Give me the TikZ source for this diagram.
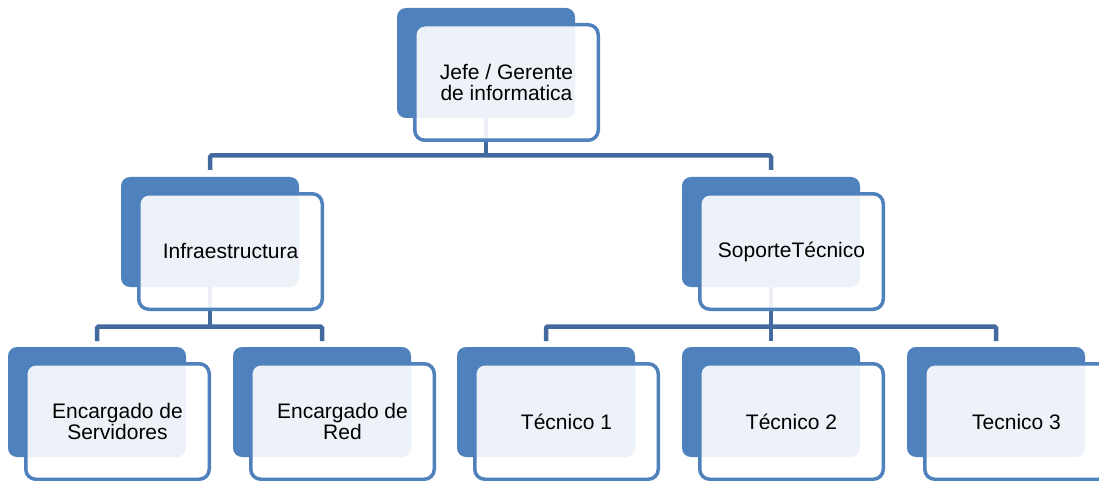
\documentclass[tikz,border=0pt]{standalone}
\usepackage{fontspec}
\setmainfont{Liberation Sans}
\definecolor{boxblue}{RGB}{79,129,189}
\definecolor{connblue}{RGB}{66,106,158}
\tikzset{
  backbox/.style={rectangle, rounded corners=9pt, fill=boxblue, inner sep=0pt,
    minimum width=178pt, minimum height=110pt},
  frontbox/.style={rectangle, rounded corners=10pt, draw=boxblue, line width=3.5pt,
    fill=white, fill opacity=0.9, text opacity=1, inner sep=0pt,
    minimum width=183.5pt, minimum height=115.5pt, align=center,
    font=\fontsize{21}{21}\selectfont},
  conn/.style={draw=connblue, line width=4.5pt, rounded corners=1.5pt}
}
\begin{document}
\begin{tikzpicture}[x=1pt,y=-1pt]
\useasboundingbox (0,0) rectangle (1099,481);
\clip (0,0) rectangle (1099,481);
\fill[white] (0,0) rectangle (1099,481);
% back boxes
\node[backbox] (jefeB) at (486,63) {};
\node[backbox] (infraB) at (210,232) {};
\node[backbox] (soporteB) at (771,232) {};
\node[backbox] (servB) at (97,402) {};
\node[backbox] (redB) at (322,402) {};
\node[backbox] (tec1B) at (546,402) {};
\node[backbox] (tec2B) at (771,402) {};
\node[backbox] (tec3B) at (996,402) {};
% helper coordinates
\coordinate (busTop) at (0,155.5);
\coordinate (stubTop) at (0,170);
\coordinate (busLow) at (0,326.5);
\coordinate (stubLow) at (0,341);
% connectors
\draw[conn] (jefeB.south) -- (jefeB.south |- busTop);
\draw[conn] (infraB.north |- stubTop) -- (infraB.north |- busTop) -- (soporteB.north |- busTop) -- (soporteB.north |- stubTop);
\draw[conn] (infraB.south) -- (infraB.south |- busLow);
\draw[conn] (servB.north |- stubLow) -- (servB.north |- busLow) -- (redB.north |- busLow) -- (redB.north |- stubLow);
\draw[conn] (soporteB.south) -- (soporteB.south |- busLow);
\draw[conn] (tec1B.north |- stubLow) -- (tec1B.north |- busLow) -- (tec3B.north |- busLow) -- (tec3B.north |- stubLow);
\draw[conn] (tec2B.north |- busLow) -- (tec2B.north |- stubLow);
% front boxes
\node[frontbox] (jefe) at (506.5,82.5) {Jefe / Gerente\\de informatica};
\node[frontbox] (infra) at (230.5,251.5) {Infraestructura};
\node[frontbox] (soporte) at (791.5,251.5) {SoporteTécnico};
\node[frontbox] (serv) at (117.5,421.5) {Encargado de\\Servidores};
\node[frontbox] (red) at (342.5,421.5) {Encargado de\\Red};
\node[frontbox] (tec1) at (566.5,421.5) {Técnico 1};
\node[frontbox] (tec2) at (791.5,421.5) {Técnico 2};
\node[frontbox] (tec3) at (1016.5,421.5) {Tecnico 3};
\end{tikzpicture}
\end{document}
